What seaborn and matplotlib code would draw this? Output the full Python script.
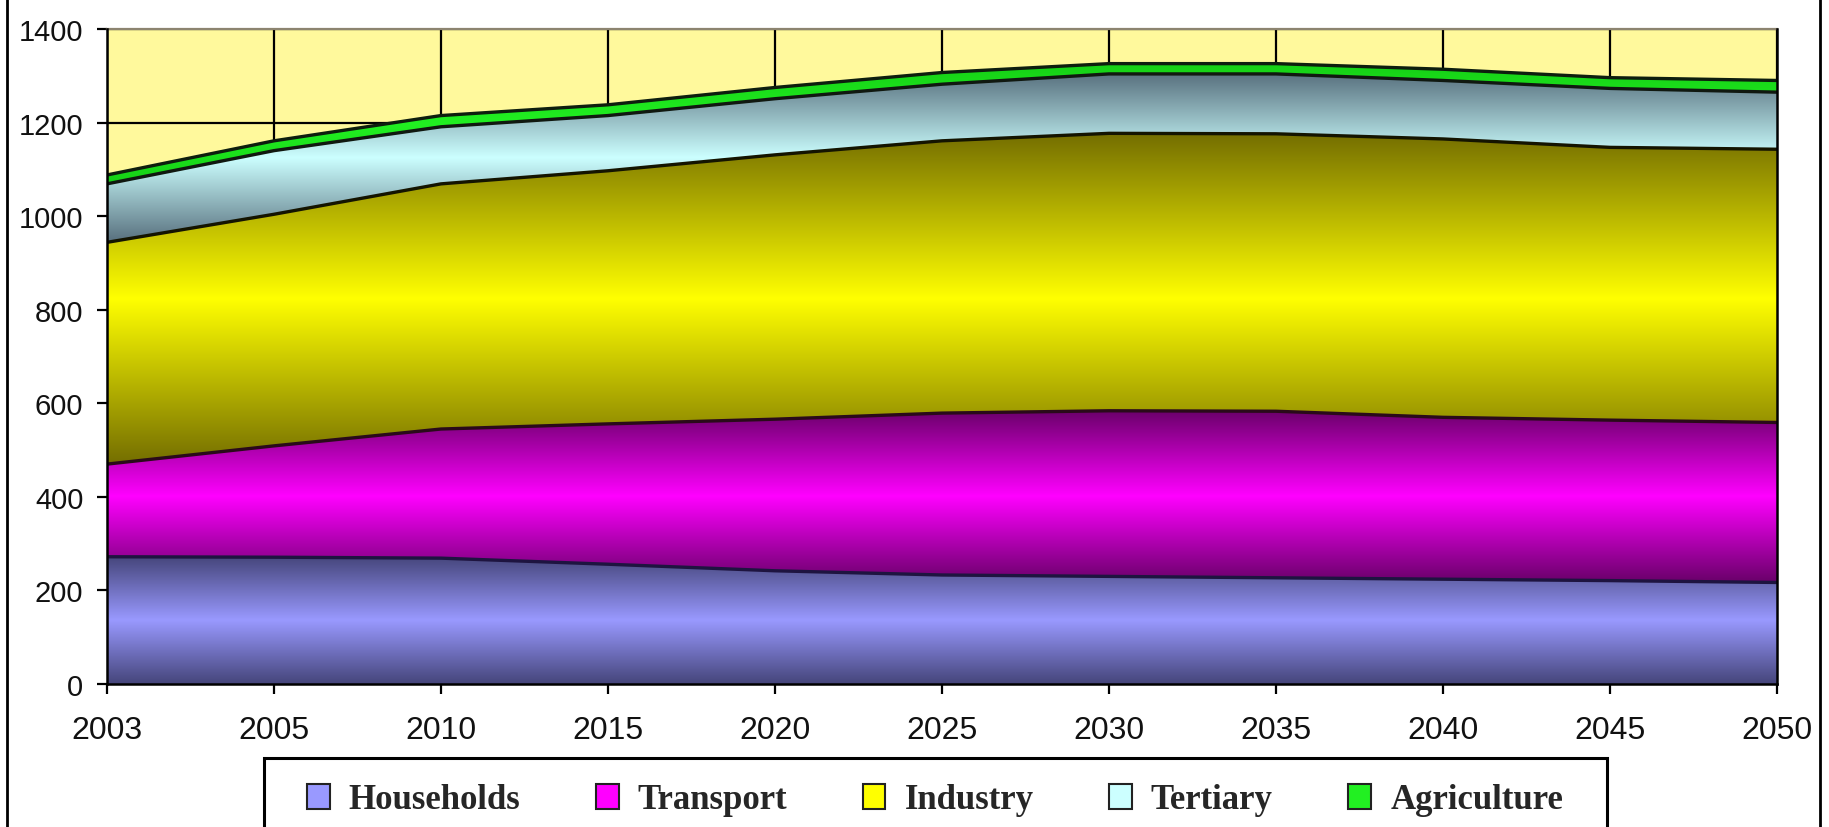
import numpy as np
import pandas as pd
import matplotlib
matplotlib.use("Agg")
import matplotlib.pyplot as plt
import seaborn as sns
from matplotlib.colors import to_rgb
from matplotlib.patches import Patch, PathPatch, Rectangle
from matplotlib.lines import Line2D
from matplotlib import font_manager

# Energy demand by sector (stacked), scenario years
years = ["2003", "2005", "2010", "2015", "2020", "2025", "2030", "2035", "2040", "2045", "2050"]
households = [272, 271, 269, 256, 242, 233, 230, 227, 224, 221, 217]
transport = [198, 238, 276, 300, 324, 346, 354, 356, 346, 343, 342]
industry = [474, 495, 524, 541, 565, 582, 593, 593, 595, 583, 584]
tertiary = [125, 136, 122, 118, 120, 121, 127, 128, 125, 126, 122]
agriculture = [19, 21, 24, 23, 24, 25, 22, 22, 24, 23, 25]

sectors = ["Households", "Transport", "Industry", "Tertiary", "Agriculture"]
values = [households, transport, industry, tertiary, agriculture]

light = {"Households": "#9999FF", "Transport": "#FF00FF", "Industry": "#FFFF00",
         "Tertiary": "#CCFFFF", "Agriculture": "#22F022"}
dark = {"Households": "#45457A", "Transport": "#6A006A", "Industry": "#746E00",
        "Tertiary": "#58707E", "Agriculture": "#16D016"}
edge = {"Households": "#1E1440", "Transport": "#2A0A1A", "Industry": "#141400",
        "Tertiary": "#101810", "Agriculture": "#0E1E0E"}

sns.set_theme(style="white")
fonts = {f.name for f in font_manager.fontManager.ttflist}
xfont = "Liberation Sans Narrow" if "Liberation Sans Narrow" in fonts else "Liberation Sans"
xsize = 27 if xfont == "Liberation Sans Narrow" else 23
plt.rcParams["font.family"] = ["Liberation Sans", "DejaVu Sans"]

W, H = 1829, 828
fig = plt.figure(figsize=(W / 100, H / 100), dpi=100)
fig.patch.set_facecolor("white")
ax = fig.add_axes([107 / W, 1 - 685 / H, (1777 - 107) / W, (685 - 30) / H])
ax.set_facecolor("#FFF99C")

pos = np.arange(len(years))
data = pd.DataFrame({"pos": pos, **{s: v for s, v in zip(sectors, values)}})

# cumulative stack
bottoms = {}
tops = {}
run = np.zeros(len(years))
for s in sectors:
    bottoms[s] = run.copy()
    run = run + data[s].to_numpy()
    tops[s] = run.copy()


def band_gradient(c_dark, c_light, n=400):
    t = np.linspace(0, 1, n)
    w = 1 - np.abs(2 * t - 1)
    d = np.array(to_rgb(c_dark))
    l = np.array(to_rgb(c_light))
    img = d[None, :] + (l - d)[None, :] * w[:, None]
    return img[:, None, :]


for s in sectors:
    lo, hi = bottoms[s], tops[s]
    poly = ax.fill_between(pos, lo, hi, facecolor="none", edgecolor="none", zorder=2)
    path = poly.get_paths()[0]
    clip = PathPatch(path, transform=ax.transData, facecolor="none", edgecolor="none")
    ax.add_patch(clip)
    ymin, ymax = lo.min(), hi.max()
    im = ax.imshow(band_gradient(dark[s], light[s]), origin="lower",
                   extent=(pos[0], pos[-1], ymin, ymax), aspect="auto",
                   interpolation="bilinear", zorder=2)
    im.set_clip_path(clip)

# boundary lines of each stacked layer
long = pd.concat([pd.DataFrame({"pos": pos, "top": tops[s], "sector": s}) for s in sectors],
                 ignore_index=True)
sns.lineplot(data=long, x="pos", y="top", hue="sector", palette=edge, legend=False,
             linewidth=2.4, sort=False, ax=ax, zorder=4)

ax.set_xlim(pos[0], pos[-1])
ax.set_ylim(0, 1400)
ax.set_yticks(np.arange(0, 1401, 200))
ax.set_xticks(pos)
ax.set_xticklabels(years, fontfamily=xfont, fontsize=xsize)
for lab in ax.get_yticklabels():
    lab.set_fontsize(21)
ax.set_xlabel("")
ax.set_ylabel("")

ax.set_axisbelow(True)
ax.grid(True, color="black", linewidth=1.6, zorder=1)
ax.tick_params(axis="both", direction="out", length=7, width=1.6, color="black",
               bottom=True, left=True, labelcolor="#111111")
ax.tick_params(axis="y", pad=10)
ax.tick_params(axis="x", pad=15)
for side in ["left", "bottom", "right"]:
    ax.spines[side].set_color("black")
    ax.spines[side].set_linewidth(1.8)
    ax.spines[side].set_zorder(5)
ax.spines["top"].set_color("#8C8470")
ax.spines["top"].set_linewidth(1.6)

# outer frame lines
fig.add_artist(Line2D([7 / W, 7 / W], [0, 1], transform=fig.transFigure, color="black", lw=2))
fig.add_artist(Line2D([1820 / W, 1820 / W], [0, 1], transform=fig.transFigure, color="black", lw=2))

# legend box
fig.add_artist(Rectangle((264 / W, -0.02), (1607 - 264) / W, (1 - 759 / H) + 0.02,
                         transform=fig.transFigure, facecolor="white", edgecolor="black",
                         lw=2.2, zorder=1))
handles = [Patch(facecolor=light[s], edgecolor="#222222", linewidth=1.5) for s in sectors]
leg = fig.legend(handles, sectors, loc="center left",
                 bbox_to_anchor=(307 / W, 1 - 801 / H, (1563 - 307) / W, 0),
                 mode="expand", ncol=5, frameon=False, handlelength=0.65, handleheight=0.75,
                 handletextpad=0.55, borderpad=0.0, borderaxespad=0.0,
                 prop={"family": ["Liberation Serif", "DejaVu Serif"], "weight": "bold", "size": 25})
leg.set_zorder(3)

fig.savefig("out.png", dpi=100)
